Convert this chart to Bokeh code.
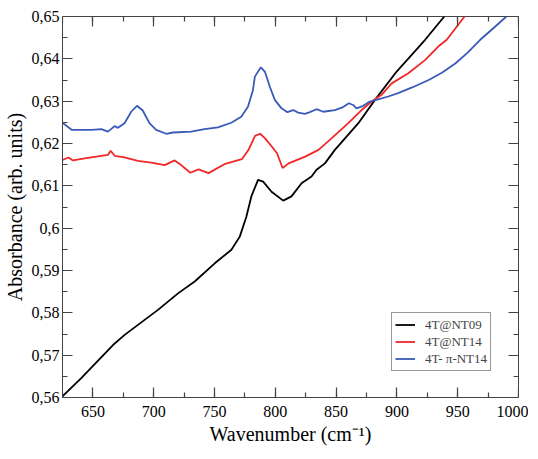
from bokeh.plotting import figure
from bokeh.models import (SingleIntervalTicker, CustomJSTickFormatter, LinearAxis,
                          Range1d, Legend, LegendItem)
from bokeh.embed import file_html
from bokeh.resources import INLINE

# --- data ---
black_x = [625, 640.4, 666.5, 676.1, 703.5, 720, 733.7, 750.2, 763.9, 770.8, 776.2, 780.3,
           785.8, 790, 796.9, 806.5, 813.3, 821.6, 829.8, 833.9, 840.8, 849, 868.3, 882,
           899.8, 923.2, 939]
black_y = [0.5603, 0.5646, 0.5724, 0.5748, 0.5807, 0.5846, 0.5874, 0.5917, 0.5949, 0.5980,
           0.6027, 0.6075, 0.6114, 0.6110, 0.6086, 0.6065, 0.6075, 0.6106, 0.6122, 0.6138,
           0.6153, 0.6185, 0.6248, 0.6303, 0.6370, 0.6445, 0.6500]

red_x = [625, 629.9, 633.6, 643.2, 656.9, 662.4, 664.6, 667.9, 676.1, 687, 698, 709, 717.2,
         722.6, 730.1, 736.9, 745.1, 758.8, 772.5, 778, 783.3, 787.5, 791.6, 797.1, 801.4,
         806, 810.9, 824.6, 835.5, 846.2, 860, 871, 879.2, 887.4, 895.7, 909.4, 923.1, 934,
         941, 955.6]
red_y = [0.6161, 0.6167, 0.6160, 0.6165, 0.6171, 0.6173, 0.6183, 0.6171, 0.6167, 0.6159,
         0.6155, 0.6149, 0.6160, 0.6149, 0.6131, 0.6139, 0.6130, 0.6152, 0.6163, 0.6185,
         0.6218, 0.6223, 0.6212, 0.6193, 0.6177, 0.6142, 0.6153, 0.6169, 0.6185, 0.6212,
         0.6248, 0.6279, 0.6299, 0.6315, 0.6342, 0.6366, 0.6397, 0.6429, 0.6445, 0.6500]

blue_x = [625, 632.7, 648.9, 657, 662.4, 667.9, 670.6, 676, 681.5, 686.2, 691, 696.5, 702,
          710.3, 715.7, 730.8, 741.8, 752.8, 763.8, 772, 777.5, 781.6, 783.2, 788.1, 791.4,
          795.5, 799.6, 805.1, 810, 814.7, 818.8, 824.3, 828.4, 833.9, 839.4, 849, 855.8,
          860.5, 864, 866.8, 872.3, 877.7, 884.6, 892.8, 901, 913, 926.1, 937, 948, 958,
          968.5, 980, 990]
blue_y = [0.6249, 0.6232, 0.6232, 0.6234, 0.6228, 0.6241, 0.6237, 0.6248, 0.6275, 0.6289,
          0.6278, 0.6248, 0.6232, 0.6223, 0.6226, 0.6228, 0.6234, 0.6238, 0.6249, 0.6263,
          0.6287, 0.6326, 0.6358, 0.6380, 0.6370, 0.6334, 0.6303, 0.6283, 0.6274, 0.6279,
          0.6273, 0.6270, 0.6274, 0.6281, 0.6275, 0.6279, 0.6286, 0.6295, 0.6291, 0.6283,
          0.6289, 0.6299, 0.6304, 0.6311, 0.6319, 0.6333, 0.6350, 0.6367, 0.6389, 0.6414,
          0.6445, 0.6474, 0.6500]

series_names = ["4T@NT09", "4T@NT14", "4T- \u03c0-NT14"]
series_colors = ["#000000", "#f02828", "#3a5ab8"]

x_label = "Wavenumber (cm\u207b\u00b9)"
y_label = "Absorbance (arb. units)"

x_lo, x_hi, x_step = 625, 1000, 50
y_lo, y_hi, y_step = 0.56, 0.65, 0.01

FONT = "Liberation Serif"
AX = "#444444"
FW, FH = 456, 381

p = figure(frame_width=FW, frame_height=FH, output_backend="svg", toolbar_location=None,
           x_range=Range1d(x_lo, x_hi), y_range=Range1d(y_lo, y_hi),
           min_border_left=56, min_border_right=10, min_border_top=16, min_border_bottom=54,
           x_axis_label=x_label, y_axis_label=y_label)
p.xgrid.visible = False
p.ygrid.visible = False
p.outline_line_color = AX
p.background_fill_color = "white"
p.border_fill_color = "white"

yfmt = CustomJSTickFormatter(code="""
var s = tick.toFixed(2);
s = s.replace(/0+$/, '').replace(/\\.$/, '');
return s.replace('.', ',');
""")

for ax, tk in ((p.xaxis[0], SingleIntervalTicker(interval=x_step, num_minor_ticks=2)),
               (p.yaxis[0], SingleIntervalTicker(interval=y_step, num_minor_ticks=2))):
    ax.ticker = tk
    ax.axis_line_color = AX
    ax.major_tick_in = 0
    ax.major_tick_out = 0
    ax.minor_tick_in = 0
    ax.minor_tick_out = 0
    ax.major_label_text_font = FONT
    ax.major_label_text_font_size = "16px"
    ax.major_label_text_color = "black"
    ax.axis_label_text_font = FONT
    ax.axis_label_text_font_size = "20px"
    ax.axis_label_text_font_style = "normal"
    ax.axis_label_text_color = "black"
    ax.axis_label_standoff = 3
p.xaxis[0].major_label_standoff = 8
p.yaxis[0].major_label_standoff = 3
p.yaxis[0].formatter = yfmt

r1 = p.line(black_x, black_y, color=series_colors[0], line_width=1.8)
r2 = p.line(red_x, red_y, color=series_colors[1], line_width=1.8)
r3 = p.line(blue_x, blue_y, color=series_colors[2], line_width=1.8)

# inward ticks on all four sides: tick-only axes pinned to the frame edges,
# facing inwards (their "outward" ticks point into the frame)
blank = CustomJSTickFormatter(code="return '';")


def tick_axis(interval, loc):
    a = LinearAxis(ticker=SingleIntervalTicker(interval=interval, num_minor_ticks=2),
                   formatter=blank, fixed_location=loc)
    a.axis_line_color = None
    a.major_tick_line_color = AX
    a.minor_tick_line_color = AX
    a.major_tick_line_width = 1.2
    a.minor_tick_line_width = 1.2
    a.major_tick_in = 0
    a.minor_tick_in = 0
    a.major_tick_out = 10
    a.minor_tick_out = 5
    a.major_label_standoff = 0
    return a


p.add_layout(tick_axis(x_step, y_lo), "above")   # ticks at bottom edge, pointing up
p.add_layout(tick_axis(x_step, y_hi), "below")   # ticks at top edge, pointing down
p.add_layout(tick_axis(y_step, x_lo), "right")   # ticks at left edge, pointing right
p.add_layout(tick_axis(y_step, x_hi), "left")    # ticks at right edge, pointing left

legend = Legend(items=[LegendItem(label=series_names[0], renderers=[r1]),
                       LegendItem(label=series_names[1], renderers=[r2]),
                       LegendItem(label=series_names[2], renderers=[r3])],
                location=(329, 26))
legend.label_text_font = FONT
legend.label_text_font_size = "13px"
legend.glyph_width = 20
legend.glyph_height = 17
legend.label_height = 17
legend.label_standoff = 10
legend.padding = 3
legend.spacing = 0
legend.margin = 0
legend.border_line_color = "#333333"
legend.border_line_width = 1
legend.background_fill_alpha = 1
p.add_layout(legend, "center")

open("out.html", "w").write(file_html(p, INLINE))
